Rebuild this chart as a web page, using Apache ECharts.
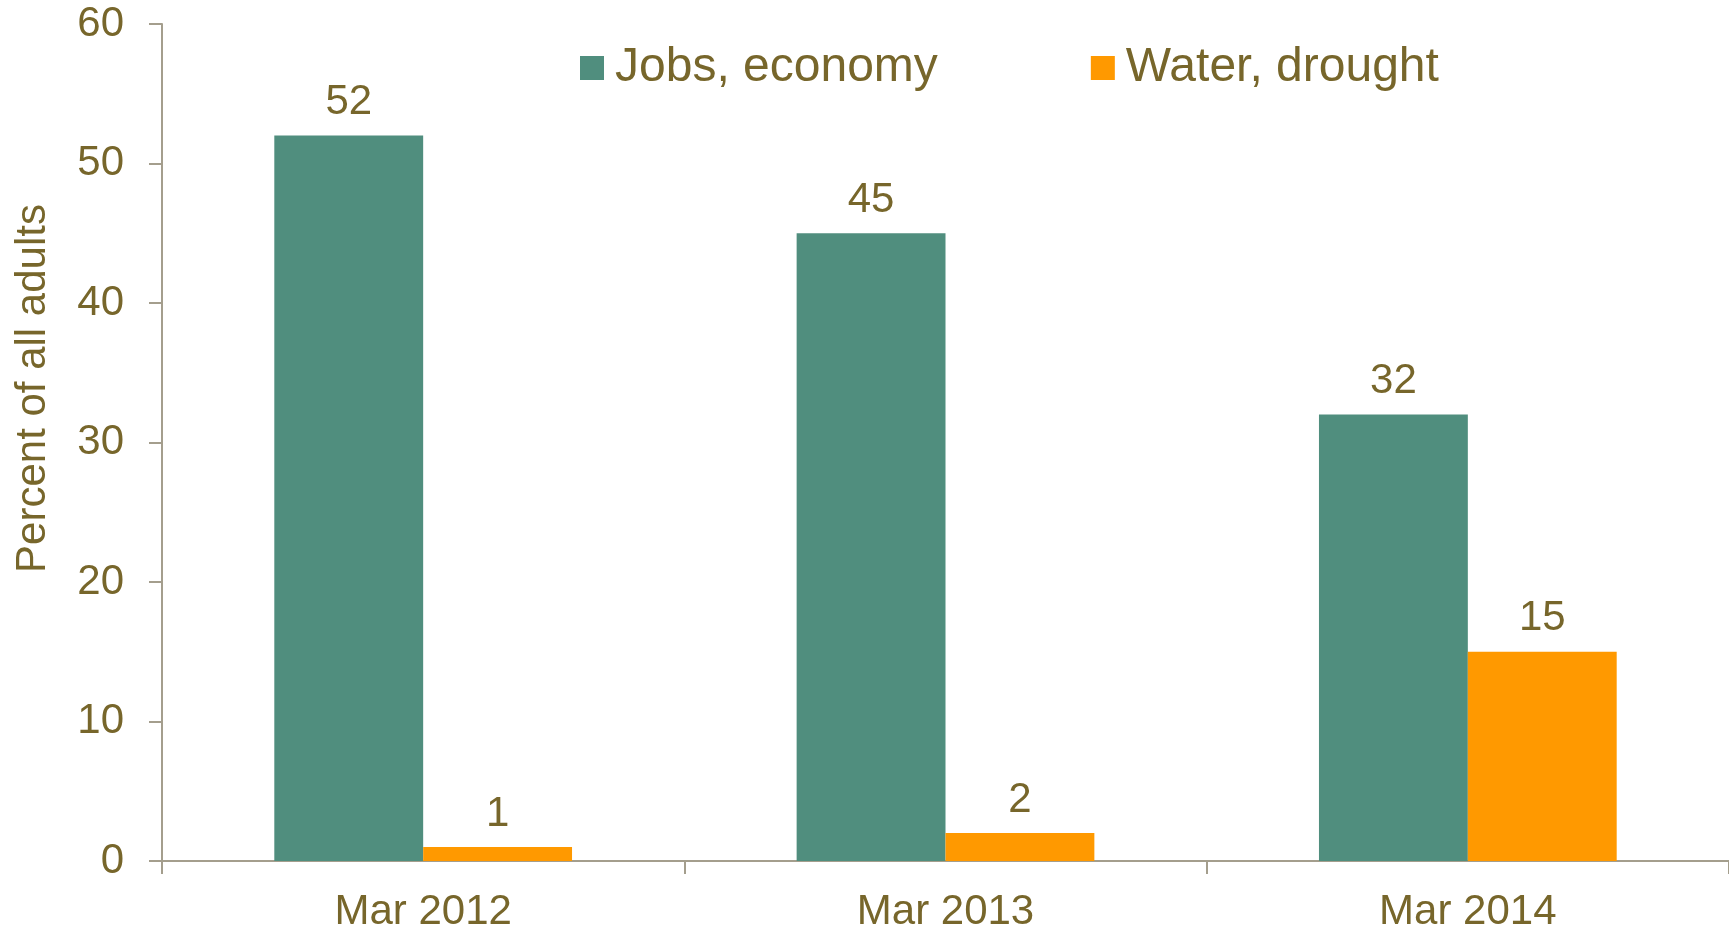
<!DOCTYPE html>
<html>
<head>
<meta charset="utf-8">
<script src="https://cdn.jsdelivr.net/npm/echarts@6/dist/echarts.min.js"></script>
<style>
html,body{margin:0;padding:0;background:#fff;}
#chart{width:1729px;height:933px;}
</style>
</head>
<body>
<div id="chart"></div>
<script>
var categories = ['Mar 2012', 'Mar 2013', 'Mar 2014'];
var seriesNames = ['Jobs, economy', 'Water, drought'];
var jobsEconomy = [52, 45, 32];
var waterDrought = [1, 2, 15];
var yTicks = { min: 0, max: 60, interval: 10 };
var yAxisTitle = 'Percent of all adults';

var FONT = '"Liberation Sans", Arial, sans-serif';
var TEXT = '#77662b';
var AXIS = '#a49e8d';

var chart = echarts.init(document.getElementById('chart'), null, { renderer: 'canvas' });
chart.setOption({
  animation: false,
  backgroundColor: '#ffffff',
  textStyle: { fontFamily: FONT },
  grid: { left: 162, right: 0, top: 24, bottom: 68, containLabel: false },
  legend: {
    data: seriesNames,
    left: 580,
    top: 44,
    padding: 0,
    itemWidth: 24,
    itemHeight: 24,
    itemGap: 153,
    icon: 'rect',
    textStyle: { fontSize: 48, color: TEXT, fontFamily: FONT, padding: [0, 0, 0, 6] }
  },
  xAxis: {
    type: 'category',
    data: categories,
    axisLine: { show: true, lineStyle: { color: AXIS, width: 2 } },
    axisTick: { show: true, length: 13, lineStyle: { color: AXIS, width: 2 }, alignWithLabel: false },
    axisLabel: { fontSize: 42, color: TEXT, fontFamily: FONT, margin: 30 },
    splitLine: { show: false }
  },
  yAxis: {
    type: 'value',
    min: yTicks.min,
    max: yTicks.max,
    interval: yTicks.interval,
    name: yAxisTitle,
    nameLocation: 'middle',
    nameGap: 108,
    nameTextStyle: { fontSize: 42, color: TEXT, fontFamily: FONT, padding: [0, 0, 0, 108] },
    axisLine: { show: true, lineStyle: { color: AXIS, width: 2 } },
    axisTick: { show: true, length: 13, lineStyle: { color: AXIS, width: 2 } },
    axisLabel: { fontSize: 42, color: TEXT, fontFamily: FONT, margin: 38 },
    splitLine: { show: false }
  },
  series: [
    {
      name: seriesNames[0],
      type: 'bar',
      data: jobsEconomy,
      barGap: '0%',
      barCategoryGap: '43%',
      itemStyle: { color: '#508e7e' },
      label: { show: true, position: 'top', distance: 12, fontSize: 42, color: TEXT, fontFamily: FONT }
    },
    {
      name: seriesNames[1],
      type: 'bar',
      data: waterDrought,
      barGap: '0%',
      barCategoryGap: '43%',
      itemStyle: { color: '#ff9900' },
      label: { show: true, position: 'top', distance: 12, fontSize: 42, color: TEXT, fontFamily: FONT }
    }
  ]
});
</script>
</body>
</html>
